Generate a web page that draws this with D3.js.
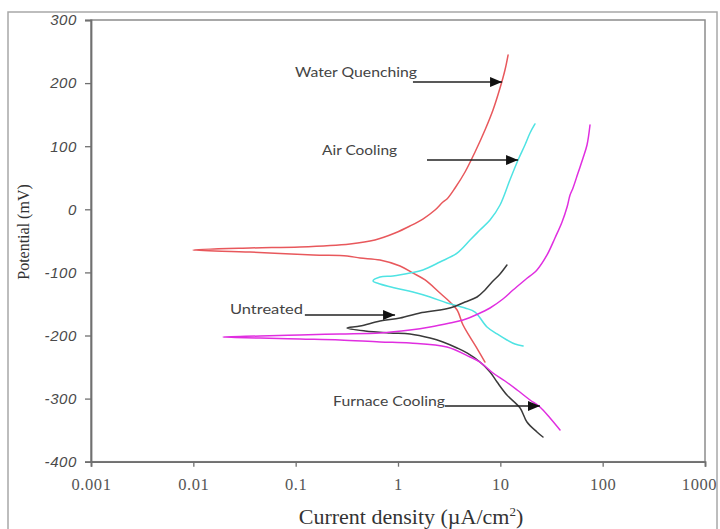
<!DOCTYPE html>
<html>
<head>
<meta charset="utf-8">
<script src="https://cdn.jsdelivr.net/npm/d3@7"></script>
<style>
  html, body { margin: 0; padding: 0; background: #fff; }
  svg { display: block; }
</style>
</head>
<body>
<svg id="chart" width="720" height="529"></svg>
<script>
// ---------- DATA (current density µA/cm², potential mV) ----------
const xTickValues = [0.001, 0.01, 0.1, 1, 10, 100, 1000];
const xTickLabels = ["0.001", "0.01", "0.1", "1", "10", "100", "1000"];
const yTickValues = [-400, -300, -200, -100, 0, 100, 200, 300];
const yTickLabels = ["-400", "-300", "-200", "-100", "0", "100", "200", "300"];

const seriesNames = ["Water Quenching", "Air Cooling", "Untreated", "Furnace Cooling"];

// Water Quenching: cathodic branch (from Ecorr outward) and anodic branch
const waterCathodicI = [0.0099, 0.0358, 0.148, 0.318, 0.426, 0.667, 1.047, 1.40, 1.84, 2.57, 3.22, 3.78, 4.32, 5.06, 6.05, 7.08];
const waterCathodicE = [-64.5, -67.7, -72.4, -74.0, -77.2, -80.4, -89.9, -101.0, -112.0, -132.7, -146.9, -159.6, -183.4, -202.4, -223.0, -242.0];
const waterAnodicI = [0.0099, 0.0358, 0.110, 0.340, 0.595, 0.936, 1.31, 1.75, 2.30, 2.75, 3.01, 3.61, 4.52, 5.66, 7.08, 8.48, 9.93, 11.1, 11.9];
const waterAnodicE = [-64.5, -61.3, -59.8, -55.0, -48.7, -37.6, -26.5, -15.4, -1.1, 11.6, 16.3, 33.8, 59.1, 90.8, 125.7, 157.4, 192.2, 220.8, 244.5];

// Air Cooling
const airCathodicI = [0.570, 0.667, 0.936, 1.40, 2.06, 3.01, 4.52, 5.66, 7.41, 9.29, 11.6, 13.9, 16.7];
const airCathodicE = [-113.6, -118.4, -124.7, -131.1, -139.0, -148.5, -156.4, -162.8, -186.5, -197.6, -207.1, -213.5, -216.6];
const airAnodicI = [0.570, 0.667, 0.893, 1.31, 1.75, 2.57, 3.78, 5.06, 6.32, 7.93, 9.93, 12.4, 14.9, 17.4, 19.5, 21.8];
const airAnodicE = [-113.6, -107.3, -105.7, -101.0, -96.2, -83.5, -69.3, -48.7, -32.8, -17.0, 6.8, 46.4, 78.1, 101.9, 120.9, 135.2];

// Untreated
const untreatedCathodicI = [0.318, 0.477, 0.836, 1.31, 2.06, 2.75, 3.78, 4.72, 6.32, 7.93, 9.29, 11.6, 15.6, 18.2, 22.8, 26.1];
const untreatedCathodicE = [-188.1, -192.9, -196.0, -197.6, -204.0, -210.3, -219.8, -227.7, -242.0, -257.8, -273.7, -294.3, -314.9, -337.1, -352.9, -360.9];
const untreatedAnodicI = [0.318, 0.426, 0.667, 1.047, 1.64, 2.57, 3.45, 4.52, 5.92, 7.08, 8.30, 9.93, 11.6];
const untreatedAnodicE = [-188.1, -185.0, -177.0, -172.3, -164.3, -159.6, -154.8, -146.9, -139.0, -127.9, -115.2, -102.5, -88.3];

// Furnace Cooling
const furnaceCathodicI = [0.0195, 0.0449, 0.110, 0.271, 0.667, 1.31, 3.01, 5.06, 6.32, 8.48, 11.1, 14.6, 19.5, 24.4, 30.6, 38.3];
const furnaceCathodicE = [-202.4, -204.0, -205.6, -207.1, -210.3, -211.9, -218.2, -234.1, -242.0, -259.4, -272.1, -286.4, -302.2, -313.3, -330.8, -349.8];
const furnaceAnodicI = [0.0195, 0.0449, 0.110, 0.271, 0.667, 1.31, 2.06, 3.22, 4.32, 6.05, 7.93, 10.6, 13.3, 17.4, 22.8, 28.6, 34.2, 40.1, 44.9, 48.0, 51.3, 57.4, 64.3, 70.3, 75.2];
const furnaceAnodicE = [-202.4, -200.8, -199.2, -197.6, -196.0, -191.3, -186.5, -180.2, -175.4, -165.9, -156.4, -142.2, -127.9, -112.0, -96.2, -72.4, -45.5, -20.1, 3.6, 22.7, 33.8, 57.5, 81.3, 101.9, 133.6];

// Annotation labels: text anchor (data coords) and arrow from/to (data coords)
const annotationTexts = ["Water Quenching", "Air Cooling", "Untreated", "Furnace Cooling"];
const annotationTextI = [0.0986, 0.181, 0.0228, 0.232];
const annotationTextE = [209.7, 86.1, -166.0, -311.0];
const arrowFromI = [1.40, 1.92, 0.123, 2.88];
const arrowToI = [10.4, 14.9, 0.936, 24.4];
const arrowE = [201.7, 78.1, -167.5, -311.7];

const xTitle = "Current density (µA/cm";
const yTitle = "Potential (mV)";

// ---------- STYLE ----------
const seriesColors = ["#e8585c", "#4fe3e3", "#3a3a3a", "#e02ee0"];
const textWidths = [122, 75, 73, 112];

const svg = d3.select("#chart");
const plotLeft = 91, plotRight = 705, plotTop = 20, plotBottom = 461.7;

// outer frame
svg.append("rect").attr("x", 8).attr("y", 12).attr("width", 709).attr("height", 540)
  .attr("fill", "none").attr("stroke", "#a8a8a8").attr("stroke-width", 1.5);

const x = d3.scaleLog().domain([0.001, 1000]).range([plotLeft, plotRight]);
const y = d3.scaleLinear().domain([-400, 300]).range([plotBottom, plotTop]);

// plot frame
svg.append("rect").attr("x", plotLeft).attr("y", plotTop).attr("width", plotRight - plotLeft).attr("height", plotBottom - plotTop)
  .attr("fill", "none").attr("stroke", "#8c8c8c").attr("stroke-width", 1.5);

// axes
const xAxis = d3.axisBottom(x).tickValues(xTickValues)
  .tickFormat((d, i) => xTickLabels[i]).tickSize(5).tickPadding(12);
const gx = svg.append("g").attr("transform", `translate(0,${plotBottom})`).call(xAxis);
gx.select(".domain").attr("stroke", "#707070").attr("stroke-width", 1.8);
gx.selectAll(".tick line").attr("stroke", "#707070").attr("stroke-width", 1.3);
gx.selectAll(".tick text").attr("fill", "#555").style("font-family", "'Liberation Serif', 'Times New Roman', serif")
  .style("font-size", "16.5px").style("letter-spacing", "0.6px")
  .attr("dx", (d, i) => i === xTickValues.length - 1 ? -6 : 0);

const yAxis = d3.axisLeft(y).tickValues(yTickValues)
  .tickFormat((d, i) => yTickLabels[i]).tickSize(6).tickPadding(8);
const gy = svg.append("g").attr("transform", `translate(${plotLeft},0)`).call(yAxis);
gy.select(".domain").attr("stroke", "#707070").attr("stroke-width", 1.8);
gy.selectAll(".tick line").attr("stroke", "#707070").attr("stroke-width", 1.3);
gy.selectAll(".tick text").attr("fill", "#4a4a4a").style("font-family", "'Liberation Sans', Arial, sans-serif")
  .style("font-style", "italic").style("font-size", "15px").style("letter-spacing", "0.6px");

// axis titles
const xt = svg.append("text").attr("x", 411).attr("y", 524).attr("text-anchor", "middle")
  .style("font-family", "'Liberation Serif', 'Times New Roman', serif").style("font-size", "22px").attr("fill", "#333");
xt.append("tspan").text(xTitle);
xt.append("tspan").attr("dy", -8).style("font-size", "13px").text("2");
xt.append("tspan").attr("dy", 8).text(")");

svg.append("text").attr("transform", "translate(29,232) rotate(-90)").attr("text-anchor", "middle")
  .style("font-family", "'Liberation Serif', 'Times New Roman', serif").style("font-size", "16px").attr("fill", "#333")
  .text(yTitle);

// curves
const series = [
  [waterCathodicI, waterCathodicE, waterAnodicI, waterAnodicE],
  [airCathodicI, airCathodicE, airAnodicI, airAnodicE],
  [untreatedCathodicI, untreatedCathodicE, untreatedAnodicI, untreatedAnodicE],
  [furnaceCathodicI, furnaceCathodicE, furnaceAnodicI, furnaceAnodicE]
];
const line = d3.line().x(d => x(d[0])).y(d => y(d[1])).curve(d3.curveCatmullRom.alpha(0.5));
series.forEach((s, k) => {
  const cath = s[0].map((v, i) => [v, s[1][i]]).reverse();
  const an = s[2].map((v, i) => [v, s[3][i]]).slice(1);
  svg.append("path").datum(cath.concat(an)).attr("d", line)
    .attr("fill", "none").attr("stroke", seriesColors[k]).attr("stroke-width", 1.5)
    .attr("stroke-linejoin", "round").attr("stroke-linecap", "round");
});

// arrow marker
svg.append("defs").append("marker").attr("id", "arrowHead")
  .attr("viewBox", "0 0 12 10").attr("refX", 12).attr("refY", 5)
  .attr("markerWidth", 12).attr("markerHeight", 10).attr("markerUnits", "userSpaceOnUse")
  .attr("orient", "auto")
  .append("path").attr("d", "M0,0 L12,5 L0,10 Z").attr("fill", "#111");

// annotations
annotationTexts.forEach((t, i) => {
  svg.append("text").attr("x", x(annotationTextI[i])).attr("y", y(annotationTextE[i]))
    .attr("textLength", textWidths[i]).attr("lengthAdjust", "spacingAndGlyphs")
    .style("font-family", "Lato, 'Open Sans', sans-serif").style("font-size", "14px").attr("fill", "#444")
    .text(t);
  svg.append("line").attr("x1", x(arrowFromI[i])).attr("x2", x(arrowToI[i]))
    .attr("y1", y(arrowE[i])).attr("y2", y(arrowE[i]))
    .attr("stroke", "#222").attr("stroke-width", 1.5).attr("marker-end", "url(#arrowHead)");
});
</script>
</body>
</html>
